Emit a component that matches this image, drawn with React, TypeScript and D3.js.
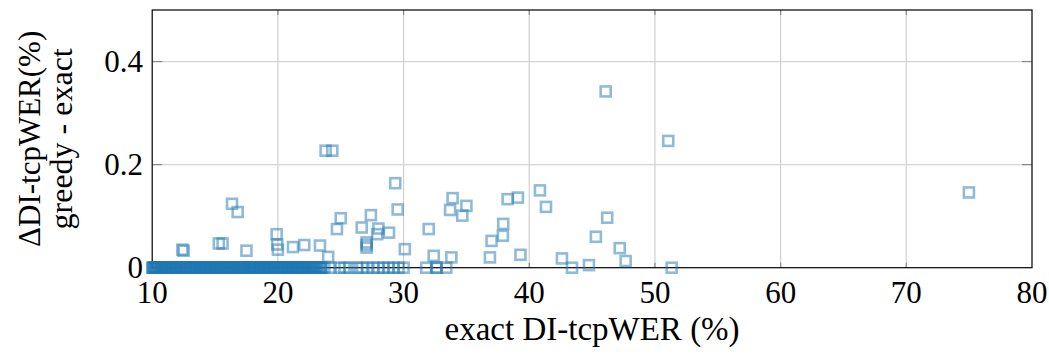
import React from "react";
import * as d3 from "d3";

// x ticks and y ticks
const xTicks = [10, 20, 30, 40, 50, 60, 70, 80];
const yTicks = [0, 0.2, 0.4];
const yTickLabels = ["0", "0.2", "0.4"];

// points with zero difference (exact DI-tcpWER values)
const zeroX = [
  10.0, 10.1, 10.2, 10.3, 10.4, 10.5, 10.6, 10.7, 10.8, 10.9, 11.0, 11.1, 11.3, 11.4, 11.5,
  11.7, 11.8, 11.9, 12.0, 12.2, 12.3, 12.4, 12.6, 12.7, 12.8, 12.9, 13.0, 13.1, 13.2, 13.4,
  13.5, 13.6, 13.7, 13.8, 13.9, 14.0, 14.1, 14.2, 14.4, 14.5, 14.6, 14.7, 14.8, 14.9, 15.0,
  15.1, 15.2, 15.3, 15.5, 15.6, 15.7, 15.8, 15.9, 16.0, 16.1, 16.2, 16.4, 16.5, 16.6, 16.7,
  16.8, 16.9, 17.0, 17.2, 17.3, 17.4, 17.5, 17.7, 17.8, 17.9, 18.0, 18.1, 18.3, 18.4, 18.5,
  18.6, 18.8, 18.9, 19.0, 19.1, 19.2, 19.4, 19.5, 19.6, 19.7, 19.9, 20.0, 20.1, 20.3, 20.4,
  20.5, 20.7, 20.8, 21.0, 21.1, 21.2, 21.4, 21.5, 21.7, 21.8, 22.0, 22.1, 22.3, 22.4, 22.6,
  22.8, 22.9, 23.1, 23.3, 23.5, 23.7, 24.2, 24.9, 25.3, 25.7, 26.3, 26.7, 27.1, 27.6, 28.0,
  28.4, 28.8, 29.2, 29.6, 30.0, 31.8, 32.6, 32.65, 33.4, 43.4, 51.33,
  10.05, 10.15, 10.25, 10.35, 10.45, 10.55, 10.65, 10.75, 10.85, 10.95, 11.05, 11.2, 11.25,
  11.35, 11.45, 11.6, 11.65, 11.75, 11.85, 11.95, 12.05, 12.15, 12.25, 12.35, 12.5, 12.55,
  12.65, 12.75, 12.85, 12.95, 13.05, 13.15, 13.25, 13.3, 13.45, 13.55, 13.65, 13.75, 13.85,
  13.95, 14.05, 14.15, 14.25, 14.3, 14.35, 14.45, 14.55, 14.65, 14.75, 14.85, 14.95, 15.05,
  15.15, 15.25, 15.4, 15.45, 15.55, 15.65, 15.75, 15.85, 15.95, 16.05, 16.15, 16.3, 16.35,
  16.45, 16.55, 16.65, 16.75, 16.85, 16.95, 17.05, 17.1, 17.15, 17.25, 17.35, 17.45, 17.6,
  17.65, 17.75, 17.85, 17.95, 18.05, 18.2, 18.25, 18.35, 18.45, 18.55, 18.7, 18.75, 18.85,
  18.95, 19.05, 19.15, 19.3, 19.35, 19.45, 19.55, 19.65, 19.8, 19.85, 19.95, 20.05, 20.2,
  20.25, 20.35, 20.45, 20.6, 20.65, 20.75, 20.9, 20.95, 21.05, 21.15, 21.3, 21.35, 21.45,
  21.6, 21.65, 21.75, 21.9, 21.95, 22.05, 22.2, 22.25, 22.35, 22.5, 22.55, 22.7, 22.75,
  22.85, 23.0, 23.05, 23.2, 23.4,
];

// points with non-zero difference
const diffX = [
  12.4, 12.5, 16.35, 16.8, 15.3, 15.6, 17.5, 19.9, 19.95, 20.0, 21.2, 22.1, 23.35, 24.0,
  24.7, 25.0, 26.67, 27.4, 27.06, 27.06, 27.06, 28.0, 27.9, 28.84, 29.34, 29.53, 30.1,
  23.8, 24.33, 32.0, 32.4, 33.8, 33.9, 33.7, 34.67, 35.0, 36.87, 37.0, 37.9, 37.93, 38.28,
  39.1, 39.3, 40.85, 41.33, 42.6, 44.75, 45.3, 46.2, 47.2, 47.67, 46.08, 51.06, 74.98,
];
const diffY = [
  0.035, 0.033, 0.124, 0.108, 0.047, 0.047, 0.033, 0.065, 0.045, 0.035, 0.04, 0.044, 0.043, 0.021,
  0.075, 0.096, 0.078, 0.102, 0.049, 0.039, 0.044, 0.076, 0.065, 0.068, 0.164, 0.113, 0.036,
  0.227, 0.227, 0.075, 0.023, 0.02, 0.135, 0.112, 0.101, 0.12, 0.02, 0.052, 0.062, 0.085, 0.133,
  0.136, 0.025, 0.15, 0.118, 0.018, 0.005, 0.06, 0.097, 0.038, 0.013, 0.342, 0.246, 0.146,
];

const W = 1049;
const H = 354;
const left = 152.2;
const right = 1032;
const top = 10;
const bottom = 267.7;

const FONT = "'Liberation Serif', 'DejaVu Serif', serif";

export default function App() {
  const x = d3.scaleLinear().domain([10, 80]).range([left, right]);
  const y = d3.scaleLinear().domain([0, 0.5]).range([bottom, top]);

  const points: { x: number; y: number }[] = [
    ...zeroX.map((v) => ({ x: v, y: 0 })),
    ...diffX.map((v, i) => ({ x: v, y: diffY[i] })),
  ];
  const s = 10;
  const color = "#1f77b4";

  return (
    <svg
      width={W}
      height={H}
      style={{ position: "absolute", left: 0, top: 0, background: "#fff" }}
      fontFamily={FONT}
    >
      <rect x={0} y={0} width={W} height={H} fill="#fff" />
      {/* grid */}
      {xTicks.slice(1, -1).map((t) => (
        <line key={"gx" + t} x1={x(t)} x2={x(t)} y1={top} y2={bottom} stroke="#cfcfcf" strokeWidth={1.2} />
      ))}
      {yTicks.slice(1).map((t) => (
        <line key={"gy" + t} x1={left} x2={right} y1={y(t)} y2={y(t)} stroke="#d4d4d4" strokeWidth={1.2} />
      ))}
      {/* inward ticks */}
      {xTicks.slice(1, -1).map((t) => (
        <g key={"tx" + t} stroke="#8a8a8a" strokeWidth={1.2}>
          <line x1={x(t)} x2={x(t)} y1={bottom} y2={bottom - 5} />
          <line x1={x(t)} x2={x(t)} y1={top} y2={top + 5} />
        </g>
      ))}
      {yTicks.slice(1).map((t) => (
        <g key={"ty" + t} stroke="#8a8a8a" strokeWidth={1.2}>
          <line x1={left} x2={left + 10} y1={y(t)} y2={y(t)} />
          <line x1={right} x2={right - 10} y1={y(t)} y2={y(t)} />
        </g>
      ))}
      {/* frame */}
      <rect x={left} y={top} width={right - left} height={bottom - top} fill="none" stroke="#000" strokeWidth={1.2} />
      {/* points */}
      <g fill="none" stroke={color} strokeOpacity={0.5} strokeWidth={2.6}>
        {points.map((p, i) => (
          <rect key={i} x={x(p.x) - s / 2} y={y(p.y) - s / 2} width={s} height={s} />
        ))}
      </g>
      {/* tick labels */}
      {xTicks.map((t) => (
        <text key={"lx" + t} x={x(t)} y={303} textAnchor="middle" fontSize={31} fill="#000">
          {t}
        </text>
      ))}
      {yTicks.map((t, i) => (
        <text key={"ly" + t} x={143} y={y(t)} dy="0.34em" textAnchor="end" fontSize={31} fill="#000">
          {yTickLabels[i]}
        </text>
      ))}
      {/* axis labels */}
      <text x={(left + right) / 2} y={340} textAnchor="middle" fontSize={33} fill="#000">
        exact DI-tcpWER (%)
      </text>
      <text transform={`translate(40, ${(top + bottom) / 2}) rotate(-90)`} textAnchor="middle" fontSize={31} fill="#000">
        ΔDI-tcpWER(%)
      </text>
      <text transform={`translate(72, ${(top + bottom) / 2}) rotate(-90)`} textAnchor="middle" fontSize={32} fill="#000">
        greedy - exact
      </text>
    </svg>
  );
}
